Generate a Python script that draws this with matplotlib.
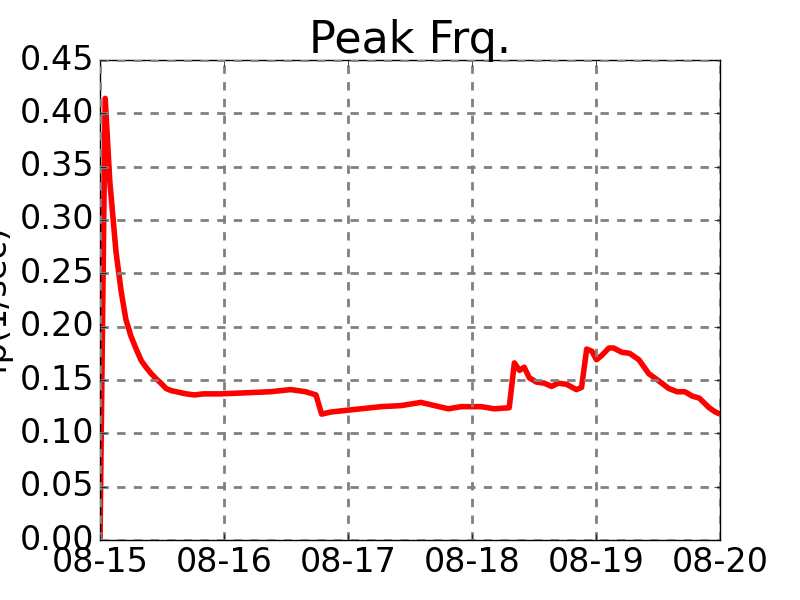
import datetime as dt

import matplotlib
matplotlib.use("Agg")
import matplotlib.pyplot as plt
import matplotlib.dates as mdates

# hours since 08-15 00:00 and peak frequency (1/sec)
hours = [0, 1.0, 1.9, 3.1, 4.1, 5.0, 6.0, 7.0, 8.0, 8.9, 9.9, 10.9, 11.8, 12.8,
         13.8, 14.8, 15.7, 16.7, 18.3, 20, 23.3, 28.2, 33, 36.9, 39.8, 41.8,
         42.9, 44.7, 46.6, 50.5, 54.4, 58.3, 62.1, 67.4, 69.9, 73.8, 76.3,
         79.2, 80.2, 81.2, 82.1, 83.1, 84.5, 86, 87.4, 88.7, 90.3, 92.2, 93.2,
         94.2, 95.2, 96.1, 97.1, 98.5, 99.4, 101, 102.5, 104.3, 106.2, 108.2,
         110.1, 111.7, 113.2, 114.6, 116, 117.9, 119.1, 120]
fp = [0.0, 0.414, 0.336, 0.27, 0.233, 0.207, 0.191, 0.179, 0.168, 0.162,
      0.156, 0.151, 0.147, 0.142, 0.140, 0.139, 0.138, 0.137, 0.136, 0.137,
      0.137, 0.138, 0.139, 0.141, 0.139, 0.136, 0.118, 0.120, 0.121, 0.123,
      0.125, 0.126, 0.129, 0.123, 0.125, 0.125, 0.123, 0.124, 0.166, 0.159,
      0.162, 0.152, 0.148, 0.147, 0.144, 0.147, 0.146, 0.141, 0.143, 0.179,
      0.177, 0.169, 0.173, 0.180, 0.180, 0.176, 0.175, 0.169, 0.156, 0.149,
      0.142, 0.139, 0.139, 0.135, 0.133, 0.124, 0.120, 0.118]

start = dt.datetime(2014, 8, 15)
times = [start + dt.timedelta(hours=h) for h in hours]

plt.style.use("classic")
plt.rcParams["font.size"] = 24

fig, ax = plt.subplots(figsize=(8, 6), dpi=100)
fig.patch.set_facecolor("white")
ax.plot(times, fp, color="red", linewidth=4)

ax.set_xlim(start, start + dt.timedelta(days=5))
ax.set_ylim(0, 0.45)
ax.xaxis.set_major_locator(mdates.DayLocator())
ax.xaxis.set_major_formatter(mdates.DateFormatter("%m-%d"))
ax.grid(True, color="gray", linestyle="--", linewidth=2)

ax.set_title("Peak Frq.", fontsize=32)
ax.set_ylabel("fp(1/sec)")

fig.savefig("out.png", dpi=100, facecolor="white")
